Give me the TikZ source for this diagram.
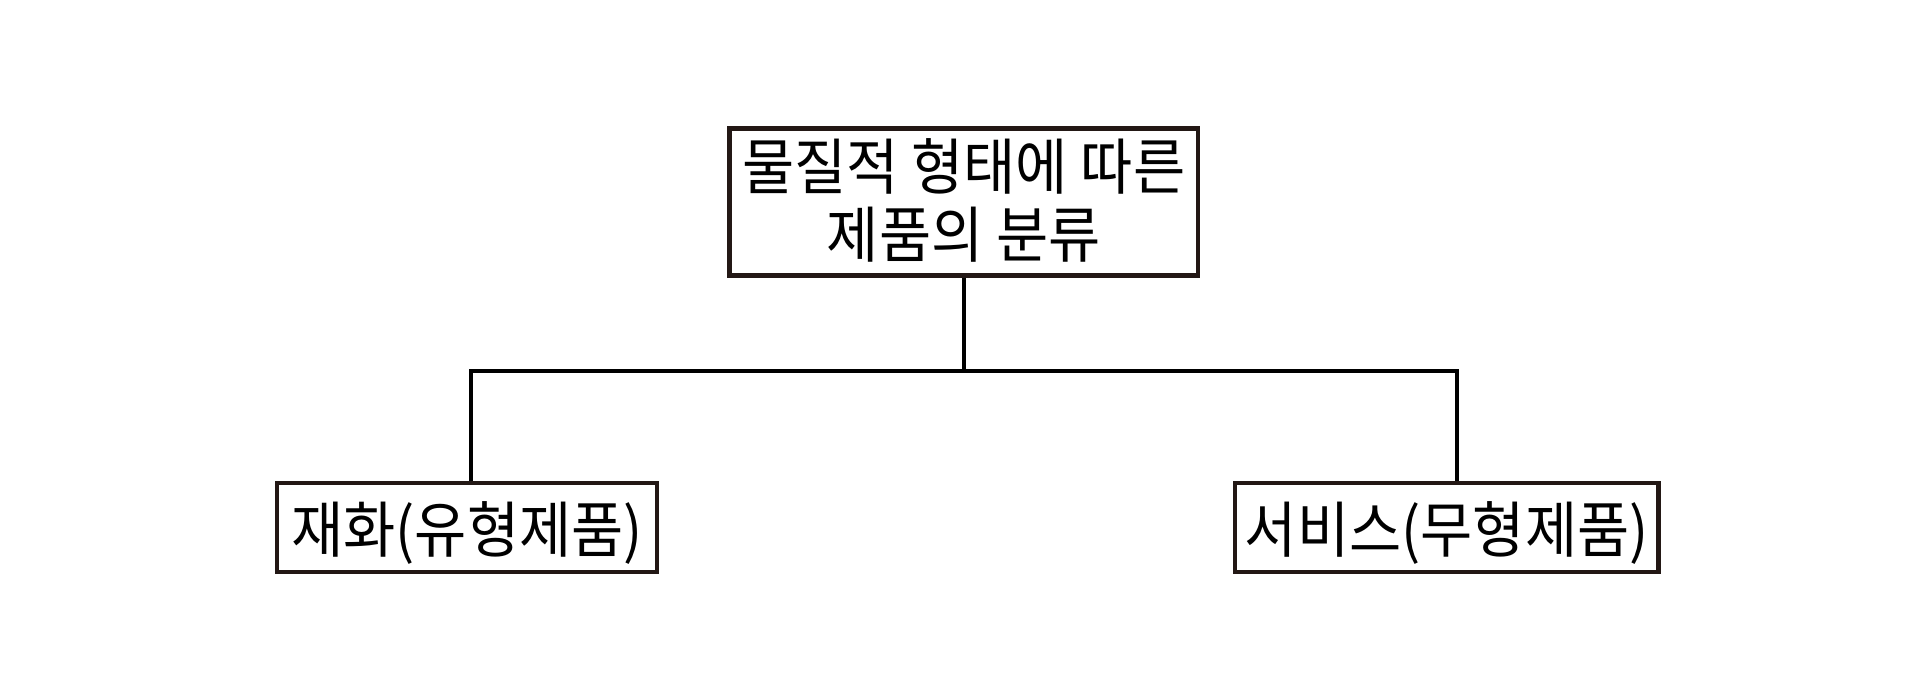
\documentclass[tikz,border=0pt]{standalone}
\usepackage{fontspec}
\newfontfamily\kr[FakeStretch=0.93]{Noto Sans CJK KR}
\definecolor{boxline}{HTML}{231815}
\begin{document}
\begin{tikzpicture}[x=1pt,y=-1pt,
  box/.style={draw=boxline,line width=4.3pt,fill=white,inner sep=0pt,align=center,
    font=\kr\fontsize{61}{65}\selectfont},
  conn/.style={draw=black,line width=3.6pt}]
\useasboundingbox (0,0) rectangle (1920,700);
\node[box,minimum width=468.5pt,minimum height=147pt] (top) at (963.75,202) {\raisebox{-6pt}[\height][\depth]{\begin{tabular}{@{}c@{}}물질적 형태에 따른\\[-2pt]제품의 분류\end{tabular}}};
\node[box,minimum width=380pt,minimum height=89pt] (left) at (467,527.5) {\raisebox{-6pt}[\height][\depth]{재화(유형제품)}};
\node[box,minimum width=423.5pt,minimum height=89pt] (right) at (1446.75,527.5) {\raisebox{-6pt}[\height][\depth]{서비스(무형제품)}};
\coordinate (hub) at (963.75,371);
\coordinate (jl) at (470.7,371);
\coordinate (jr) at (1456.7,371);
\draw[conn] (top.south) -- (hub);
\draw[conn,line cap=rect] (jl) -- (jr);
\draw[conn] (jl) -- (jl |- left.north);
\draw[conn] (jr) -- (jr |- right.north);
\end{tikzpicture}
\end{document}
